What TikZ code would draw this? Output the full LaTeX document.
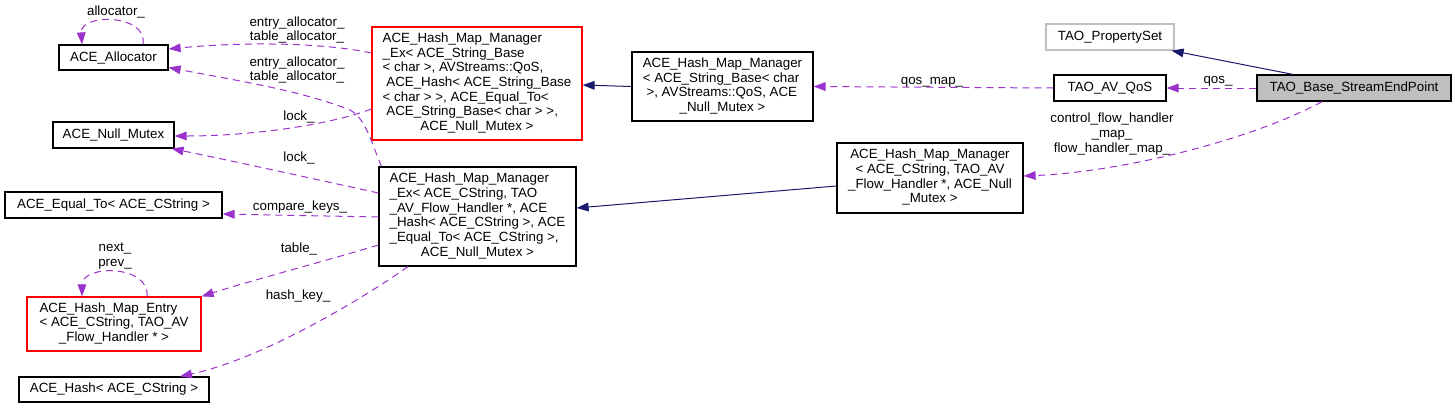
\documentclass[tikz,border=0pt]{standalone}
\usepackage{fontspec}
\setmainfont{Liberation Sans}
\usetikzlibrary{arrows.meta,calc}
\definecolor{edgep}{HTML}{9A32CD}
\definecolor{edgeb}{HTML}{191970}
\definecolor{grayb}{HTML}{BFBFBF}
\newcommand\dxl[1]{\begin{tabular}{@{}l@{}}#1\end{tabular}}
\newcommand\dxc[1]{\begin{tabular}{@{}c@{}}#1\end{tabular}}
\newcommand\dxlast[1]{\multicolumn{1}{@{}c@{}}{#1}}
\begin{document}
\begin{tikzpicture}[x=0.75pt,y=-0.75pt,line width=0.75pt,
  font=\fontsize{10}{11}\selectfont,
  box/.style={draw=black,line width=0.9pt,inner sep=0pt,align=center},
  lbl/.style={inner sep=0pt,align=center},
  dep/.style={draw=edgep,dash pattern=on 5.25pt off 3.75pt,-{Triangle[length=9pt,width=6.5pt]}},
  inh/.style={draw=edgeb,-{Triangle[length=9pt,width=6.5pt]}}]
\useasboundingbox (0,0) rectangle (1456,408);
% nodes
\node[box,minimum width=81.75pt,minimum height=18.75pt] (alloc) at (113.5,57.5) {ACE\_Allocator};
\node[box,minimum width=90.75pt,minimum height=19.5pt] (mutex) at (113.5,135) {ACE\_Null\_Mutex};
\node[box,minimum width=162.75pt,minimum height=19.5pt] (equal) at (113.5,205) {ACE\_Equal\_To< ACE\_CString >};
\node[box,draw=red,minimum width=130.5pt,minimum height=40.5pt] (entry) at (114,324)
  {\dxl{ACE\_Hash\_Map\_Entry\\< ACE\_CString, TAO\_AV\\\dxlast{\_Flow\_Handler * >}}};
\node[box,minimum width=142.5pt,minimum height=18.75pt] (hash) at (114,389.5) {ACE\_Hash< ACE\_CString >};
\node[box,draw=red,minimum width=157.5pt,minimum height=84.75pt] (hmexA) at (477,83.5)
  {\dxl{ACE\_Hash\_Map\_Manager\\\_Ex< ACE\_String\_Base\\< char >, AVStreams::QoS,\\\ ACE\_Hash< ACE\_String\_Base\\< char > >, ACE\_Equal\_To<\\\ ACE\_String\_Base< char > >,\\\dxlast{ACE\_Null\_Mutex >}}};
\node[box,minimum width=147.75pt,minimum height=74.25pt] (hmexB) at (477.5,216.5)
  {\dxl{ACE\_Hash\_Map\_Manager\\\_Ex< ACE\_CString, TAO\\\_AV\_Flow\_Handler *, ACE\\\_Hash< ACE\_CString >, ACE\\\_Equal\_To< ACE\_CString >,\\\dxlast{ACE\_Null\_Mutex >}}};
\node[box,minimum width=135.75pt,minimum height=51.75pt] (hmSB) at (722.5,86.5)
  {\dxl{ACE\_Hash\_Map\_Manager\\< ACE\_String\_Base< char\\\ >, AVStreams::QoS, ACE\\\dxlast{\_Null\_Mutex >}}};
\node[box,minimum width=139.5pt,minimum height=52.5pt] (hmCS) at (930,178)
  {\dxc{ACE\_Hash\_Map\_Manager\\< ACE\_CString, TAO\_AV\\\_Flow\_Handler *, ACE\_Null\\\_Mutex >}};
\node[box,draw=grayb,minimum width=96pt,minimum height=19.5pt] (propset) at (1110,37) {TAO\_PropertySet};
\node[box,minimum width=84pt,minimum height=19.5pt] (qos) at (1110,88) {TAO\_AV\_QoS};
\node[box,fill=grayb,minimum width=145.5pt,minimum height=19.5pt] (sep) at (1354,88) {TAO\_Base\_StreamEndPoint};
% inheritance
\draw[inh] ($(sep.north)+(-61,0)$) -- ($(propset.south east)+(-3,0)$);
\draw[inh] (hmSB.west) -- ($(hmexA.east)+(0,1.5)$);
\draw[inh] ($(hmCS.west)+(0,8)$) -- ($(hmexB.east)+(0,-8.5)$);
% usage
\draw[dep] (sep.west) -- (qos.east);
\draw[dep] (qos.west) -- (hmSB.east);
\draw[dep] ($(sep.south)+(-32,0)$) .. controls +(-72,39) and +(97,-4) .. ($(hmCS.east)+(0,-2)$);
\draw[dep] ($(alloc.north)+(29.5,0)$) .. controls +(5,-31) and +(-2,-31) .. ($(alloc.north)+(-31.5,0)$);
\draw[dep] ($(hmexA.west)+(0,-30.5)$) .. controls +(-52,-11) and +(72,-7) .. ($(alloc.east)+(0,-8.5)$);
\draw[dep] ($(hmexB.north west)+(3,0)$) .. controls +(-11,-27) and +(15,8) .. (350,110)
  .. controls +(-50,-20) and +(62,12) .. ($(alloc.east)+(0,10)$);
\draw[dep] ($(hmexA.west)+(0,25.5)$) .. controls +(-42,16) and +(76,0) .. ($(mutex.east)+(0,1)$);
\draw[dep] ($(hmexB.west)+(0,-23.5)$) .. controls +(-59,-13) and +(59,12) .. ($(mutex.south east)+(-3,0)$);
\draw[dep] ($(hmexB.west)+(0,0.5)$) -- ($(equal.east)+(0,9)$);
\draw[dep] ($(hmexB.west)+(0,28.5)$) .. controls +(-60,18) and +(50,-16) .. (entry.north east);
\draw[dep] ($(hmexB.south)+(-69.5,0)$) .. controls +(-48,34) and +(80,-17) .. ($(hash.north)+(66,0)$);
\draw[dep] ($(entry.north)+(33,0)$) .. controls +(3,-32) and +(0,-32) .. ($(entry.north)+(-32,0)$);
% labels
\node[lbl] (l1) at (116,12) {allocator\_};
\node[lbl] (l2) at (297,30) {entry\_allocator\_\\table\_allocator\_};
\node[lbl] (l3) at (297,70) {entry\_allocator\_\\table\_allocator\_};
\node[lbl] (l4) at (299,117) {lock\_};
\node[lbl] (l5) at (299,158) {lock\_};
\node[lbl] (l6) at (300,207) {compare\_keys\_};
\node[lbl] (l7) at (299,249) {table\_};
\node[lbl] (l8) at (298,296) {hash\_key\_};
\node[lbl] (l9) at (115,256) {next\_\\prev\_};
\node[lbl] (l10) at (1218,81) {qos\_};
\node[lbl] (l11) at (932,82) {qos\_map\_};
\node[lbl] (l12) at (1112,134) {control\_flow\_handler\\\_map\_\\flow\_handler\_map\_};
\end{tikzpicture}
\end{document}
